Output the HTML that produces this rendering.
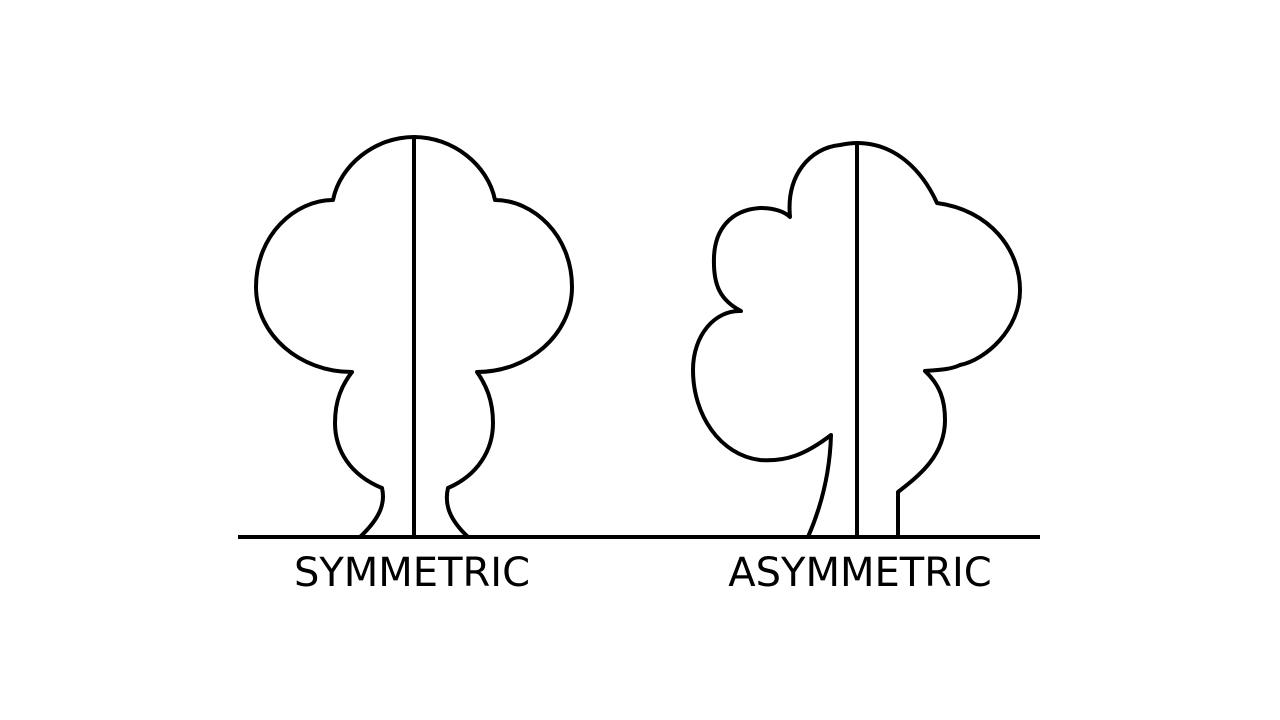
<!DOCTYPE html>
<html><head><meta charset="utf-8"><style>html,body{margin:0;padding:0;background:#fff}svg{display:block}</style></head>
<body>
<svg width="1280" height="720" viewBox="0 0 1280 720" xmlns="http://www.w3.org/2000/svg">
<g fill="none" stroke="#000" stroke-width="4" stroke-linejoin="round">
<line x1="238" y1="537" x2="1040" y2="537"/>
<line x1="414" y1="137" x2="414" y2="537"/>
<path d="M360,537 C378,520 386,505 382,488 C350,475 335,450 335,423 C335,400 342,385 352,372 C300,372 256,335 256,287 C256,235 295,200 333,200 C340,165 375,137 414,137 C453,137 488,165 495,200 C533,200 572,235 572,287 C572,335 528,372 477,372 C486,385 493,400 493,423 C493,450 478,475 448,488 C444,505 450,520 468,537"/>
<line x1="857" y1="143" x2="857" y2="537"/>
<path d="M808,537 C822,505 830,470 831,435 C805,455 785,462 760,460 C720,455 693,415 693,370 C693,335 715,310 741,311 C720,300 713,285 714,257 C715,230 730,210 760,208 C775,208 785,212 790,217 C786,175 810,148 840,145 C850,143 857,143 857,143 C895,143 922,170 937,203 C990,210 1020,250 1020,290 C1020,330 985,360 960,365 C950,370 935,370 925,371 C940,385 945,400 945,420 C945,455 920,475 898,492 L898,537"/>
</g>
<g font-family="'DejaVu Sans','Liberation Sans',sans-serif" font-size="40" fill="#000" text-anchor="middle">
<text x="412" y="586">SYMMETRIC</text>
<text x="860" y="586">ASYMMETRIC</text>
</g>
</svg>
</body></html>
